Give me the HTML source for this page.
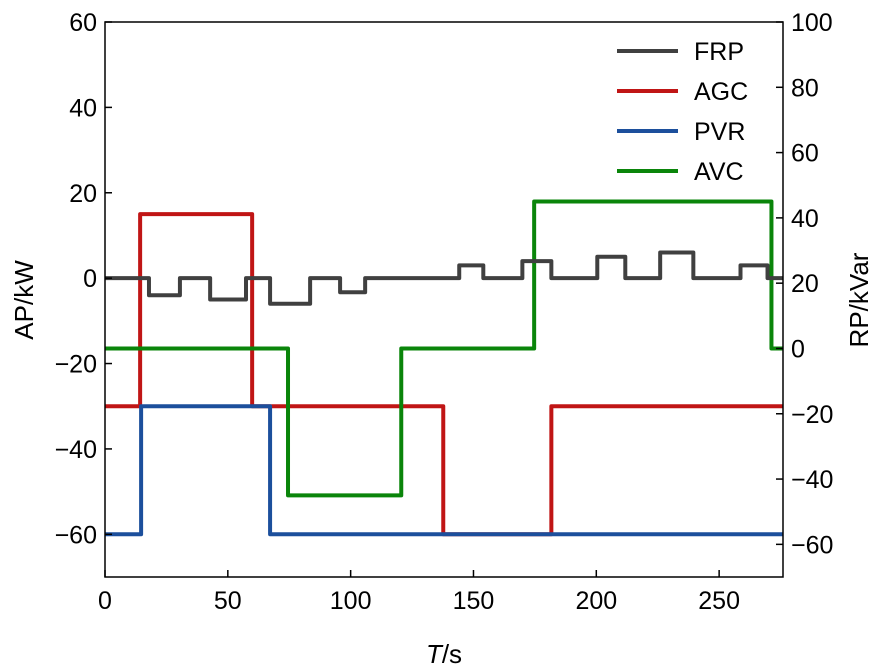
<!DOCTYPE html>
<html><head><meta charset="utf-8"><style>
html,body{margin:0;padding:0;background:#fff;}
svg text{font-family:"Liberation Sans",Arial,sans-serif;fill:#000;}
</style></head><body>
<svg id="chart" width="883" height="665" xmlns="http://www.w3.org/2000/svg"></svg>
<script>
const xTicks=[0,50,100,150,200,250];
const yLeftTicks=[-60,-40,-20,0,20,40,60];
const yRightTicks=[-60,-40,-20,0,20,40,60,80,100];
const seriesNames=["FRP","AGC","PVR","AVC"];
const frp=[[0,0],[17.9,-4],[30.5,0],[42.8,-5],[57.4,0],[67.2,-6],[83.5,0],[95.7,-3.3],[105.9,0],[144.2,3],[154,0],[169.9,4],[181.7,0],[200.4,5],[211.8,0],[226,6],[239.5,0],[258.7,3],[269.7,0],[276,0]];
const agc=[[0,-30],[14.3,15],[59.9,-30],[137.7,-60],[181.7,-30],[276,-30]];
const pvr=[[0,-60],[14.7,-30],[67.2,-60],[276,-60]];
const avc=[[0,0],[74.5,-45],[120.6,0],[174.7,45],[271.3,0],[276,0]];

const L=105,R=783,T=22,B=577;
const x=t=>L+(t-0)/(276-0)*(R-L);
const yl=v=>T+(60-v)/(60-(-70))*(B-T);
const yr=v=>T+(100-v)/(100-(-70))*(B-T);
const svg=document.getElementById('chart');
const NS="http://www.w3.org/2000/svg";
function mk(tag,attrs){const e=document.createElementNS(NS,tag);for(const k in attrs)e.setAttribute(k,attrs[k]);svg.appendChild(e);return e;}
function stepPath(data,yf){let d="";for(let i=0;i<data.length;i++){const px=x(data[i][0]),py=yf(data[i][1]);if(i==0)d+=`M${px},${py}`;else{d+=`L${px},${yf(data[i-1][1])}L${px},${py}`;}}return d;}

const colors={FRP:"#404040",AGC:"#c01515",PVR:"#1c4f9c",AVC:"#0a850a"};
const series=[["FRP",frp,yl],["AGC",agc,yl],["PVR",pvr,yl],["AVC",avc,yr]];
for(const [n,d,yf] of [series[1],series[2],series[3],series[0]]){
  const p=mk('path',{d:stepPath(d,yf),fill:"none",stroke:colors[n],"stroke-width":4,"stroke-linejoin":"round"});
  
  
}
const fr=mk('rect',{x:L,y:T,width:R-L,height:B-T,fill:"none",stroke:"#000","stroke-width":1.5});


for(const t of xTicks){
  mk('line',{x1:x(t),x2:x(t),y1:B,y2:B-7,stroke:"#000","stroke-width":1.5});
  const tx=mk('text',{x:x(t),y:B+32,"text-anchor":"middle","font-size":25});tx.textContent=t;
  
  
}
for(const v of yLeftTicks){
  mk('line',{x1:L,x2:L+7,y1:yl(v),y2:yl(v),stroke:"#000","stroke-width":1.5});
  const tx=mk('text',{x:L-8,y:yl(v)+9,"text-anchor":"end","font-size":25});tx.textContent=(v<0?"\u2212"+(-v):v);
  
  
}
for(const v of yRightTicks){
  mk('line',{x1:R,x2:R-7,y1:yr(v),y2:yr(v),stroke:"#000","stroke-width":1.5});
  const tx=mk('text',{x:R+8,y:yr(v)+9,"text-anchor":"start","font-size":25});tx.textContent=(v<0?"\u2212"+(-v):v);
  
  
}
const xt=mk('text',{x:444,y:663,"text-anchor":"middle","font-size":26});
xt.innerHTML='<tspan font-style="italic">T</tspan>/s';


const ylt=mk('text',{x:0,y:0,"text-anchor":"middle","font-size":26,transform:`translate(33,300) rotate(-90)`});ylt.textContent="AP/kW";


const yrt=mk('text',{x:0,y:0,"text-anchor":"middle","font-size":26,transform:`translate(868,300) rotate(-90)`});yrt.textContent="RP/kVar";


seriesNames.forEach((n,i)=>{
  const yy=51+i*40;
  const ln=mk('line',{x1:617,x2:678,y1:yy,y2:yy,stroke:colors[n],"stroke-width":4});
  
  
  const tx=mk('text',{x:694,y:yy+9,"font-size":25});tx.textContent=n;
  
  
});
</script>
</body></html>
